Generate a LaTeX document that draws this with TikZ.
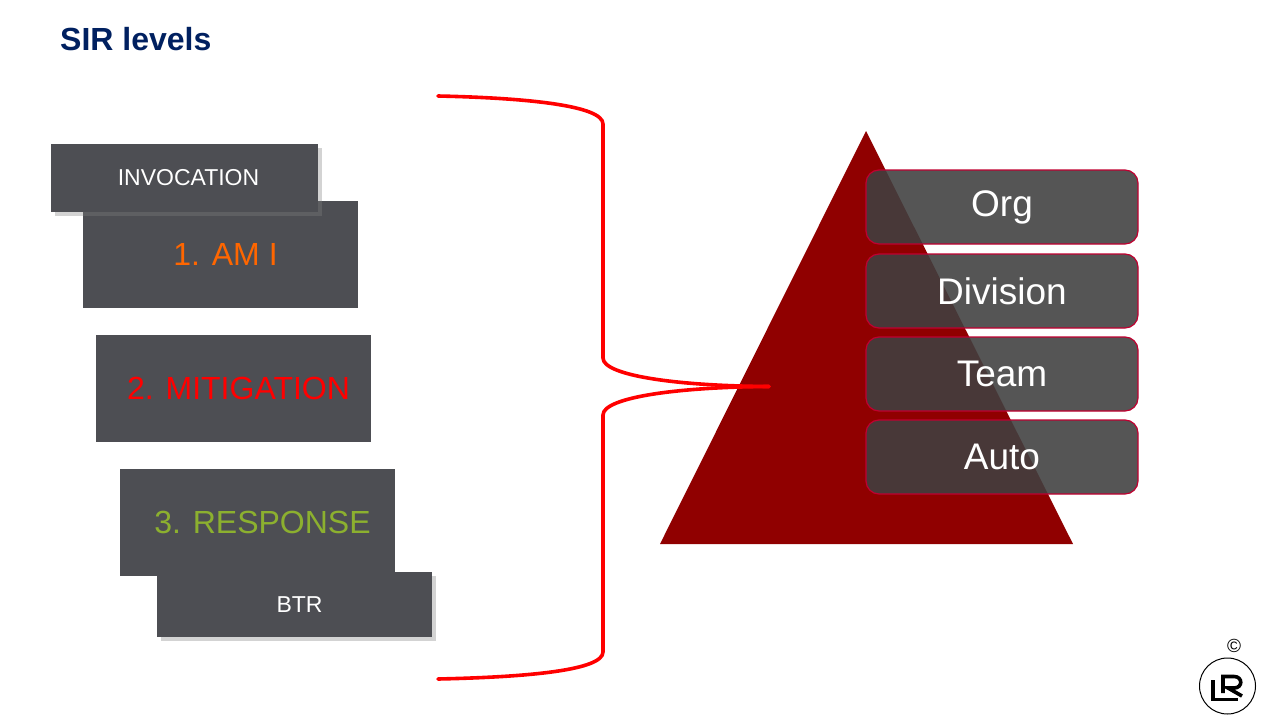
\documentclass[tikz,border=0pt]{standalone}
\usepackage{fontspec}
\setmainfont{Liberation Sans}
\usepackage{xcolor}
\usetikzlibrary{shapes,positioning,shadows}
\definecolor{sirgrey}{HTML}{4D4E53}
\definecolor{sirnavy}{HTML}{002060}
\definecolor{sirorange}{HTML}{FF6600}
\definecolor{sirgreen}{HTML}{8CB02F}
\definecolor{sirdark}{HTML}{900000}
\definecolor{sirpanel}{HTML}{404040}
\definecolor{siredge}{HTML}{C00030}
\tikzstyle{level} = [fill=sirgrey,minimum width=275pt,minimum height=107pt,inner sep=0pt,font=\fontsize{32}{38}\selectfont]
\tikzstyle{tag} = [fill=sirgrey,inner sep=0pt,text=white,font=\fontsize{23}{28}\selectfont,drop shadow={shadow xshift=4pt,shadow yshift=-4pt,opacity=0.35}]
\tikzstyle{panel} = [draw=siredge,line width=1.2pt,fill=sirpanel,fill opacity=0.89,text opacity=1,text=white,rounded corners=13pt,minimum width=272pt,minimum height=74pt,inner sep=0pt,font=\fontsize{37}{44}\selectfont]
\tikzstyle{brace} = [draw=red,line width=3.6pt,line cap=round]

\begin{document}
\begin{tikzpicture}[x=1pt,y=-1pt]
\useasboundingbox (0,0) rectangle (1280,720);

% Title
\node[anchor=west,inner sep=0pt,text=sirnavy,font=\fontsize{32}{38}\selectfont\bfseries] (title) at (60,39) {SIR levels};

% Left boxes
\node[level,text=sirorange] (amI) at (220.5,254.5) {\hspace{10pt}1. AM I};
\node[tag,minimum width=267pt,minimum height=68pt] (invocation) at (184.5,178) {\hspace{8pt}INVOCATION};
\node[level,text=red] (mitigation) at (233.5,388.5) {\hspace{10pt}2. MITIGATION};
\node[level,text=sirgreen] (response) at (257.5,522.5) {\hspace{10pt}3. RESPONSE};
\node[tag,minimum width=275pt,minimum height=65pt] (btr) at (294.5,604.5) {\hspace{10pt}BTR};

% Pyramid
\fill[sirdark] (866,131) -- (1073,544) -- (660,544) -- cycle;

% Red brace
\coordinate (bracetop) at (438,96);
\coordinate (bracebottom) at (438,679);
\coordinate (bracetip) at (769,386.5);
\draw[brace] (bracetop) .. controls (530,98) and (603,106) .. (603,124) -- (603,358) .. controls (603,376) and (680,386) .. (bracetip);
\draw[brace] (bracebottom) .. controls (530,677) and (603,670) .. (603,652) -- (603,415) .. controls (603,397) and (680,387) .. (bracetip);

% Panels
\node[panel] (org) at (1002,207) {Org};
\node[panel] (division) at (1002,291) {Division};
\node[panel] (team) at (1002,374) {Team};
\node[panel] (auto) at (1002,457) {Auto};

% Logo
\node[inner sep=0pt,font=\fontsize{19}{22}\selectfont] (copyright) at (1234,646) {©};
\node[draw=black,line width=1pt,circle,minimum size=56pt,inner sep=0pt] (logo) at (1227.5,686) {};
\draw[line width=3.6pt] (1213,680) -- (1213,699.5) -- (1238,699.5);
\draw[line width=3.6pt] (1223,693) -- (1223,676.5) -- (1234,676.5) .. controls (1243,676.5) and (1243,688) .. (1234,688) -- (1228,688) -- (1242,696);
\end{tikzpicture}
\end{document}
